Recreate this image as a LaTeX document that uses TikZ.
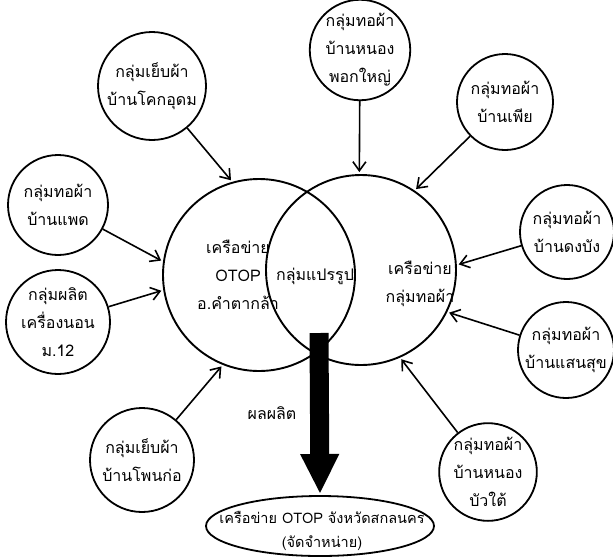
\documentclass[tikz,border=0pt]{standalone}
\usepackage{fontspec}
\setmainfont[Script=Thai]{Loma}
\usetikzlibrary{shapes.geometric,arrows.meta,positioning}

\begin{document}
\begin{tikzpicture}[x=1pt, y=-1pt,
    every node/.style={font=\fontsize{16}{28}\selectfont},
    grp/.style={draw, circle, line width=1.8pt, inner sep=0pt, align=center},
    net/.style={draw, circle, line width=1.9pt, inner sep=0pt},
    lbl/.style={align=center},
    arr/.style={-{Straight Barb[length=9pt,width=13pt]}, line width=1.6pt, shorten >=2pt}]
    \useasboundingbox (0,0) rectangle (613,558);

    % Networks
    \node[net, minimum size=192pt] (otop) at (259,275) {};
    \node[net, minimum size=190pt] (weave) at (361,270) {};
    \node[lbl] (otoptxt) at (238,275) {เครือข่าย\\OTOP\\อ.คำตากล้า};
    \node[lbl] (proc) at (315,276) {กลุ่มแปรรูป};
    \node[lbl] (weavetxt) at (420,284) {เครือข่าย\\กลุ่มทอผ้า};

    % Groups
    \node[grp, minimum size=108pt] (khokudom) at (152,86) {กลุ่มเย็บผ้า\\บ้านโคกอุดม};
    \node[grp, minimum size=100pt] (phokyai) at (360,50) {กลุ่มทอผ้า\\บ้านหนอง\\พอกใหญ่};
    \node[grp, minimum size=96pt] (phia) at (505,102) {กลุ่มทอผ้า\\บ้านเพีย};
    \node[grp, minimum size=100pt] (phaet) at (58,205) {กลุ่มทอผ้า\\บ้านแพด};
    \node[grp, minimum size=104pt] (bedding) at (58,322) {กลุ่มผลิต\\เครื่องนอน\\ม.12};
    \node[grp, minimum size=94pt] (dongbang) at (567,232) {กลุ่มทอผ้า\\บ้านดงบัง};
    \node[grp, minimum size=96pt] (saensuk) at (566,350) {กลุ่มทอผ้า\\บ้านแสนสุข};
    \node[grp, minimum size=104pt] (phonko) at (142,460) {กลุ่มเย็บผ้า\\บ้านโพนก่อ};
    \node[grp, minimum size=96pt] (buatai) at (488,472) {กลุ่มทอผ้า\\บ้านหนอง\\บัวใต้};

    % Sales
    \draw[line width=1.8pt] (320,526) ellipse [x radius=114, y radius=30];
    \coordinate (shoptop) at (320,496);
    \node[lbl, font=\fontsize{14.5}{24}\selectfont] (shoptxt) at (322,531) {เครือข่าย OTOP จังหวัดสกลนคร\\(จัดจำหน่าย)};
    \node (prod) at (272,413) {ผลผลิต};

    \draw[arr] (khokudom) -- (otop.106);
    \draw[arr] (phokyai) -- (weave.91);
    \draw[arr] (phia) -- (weave.56);
    \draw[arr] (phaet) -- (otop.172);
    \draw[arr] (bedding) -- (otop.189);
    \draw[arr] (phonko) -- (otop.248);
    \draw[arr] (buatai) -- (weave.294);
    \draw[arr] (dongbang) -- (weave.3);
    \draw[arr] (saensuk) -- (weave.334);

    \coordinate (src) at (319,333);
    \draw[line width=19pt, -{Triangle[length=40pt,width=36pt]}, shorten >=2pt] (src) -- (shoptop);
\end{tikzpicture}
\end{document}
